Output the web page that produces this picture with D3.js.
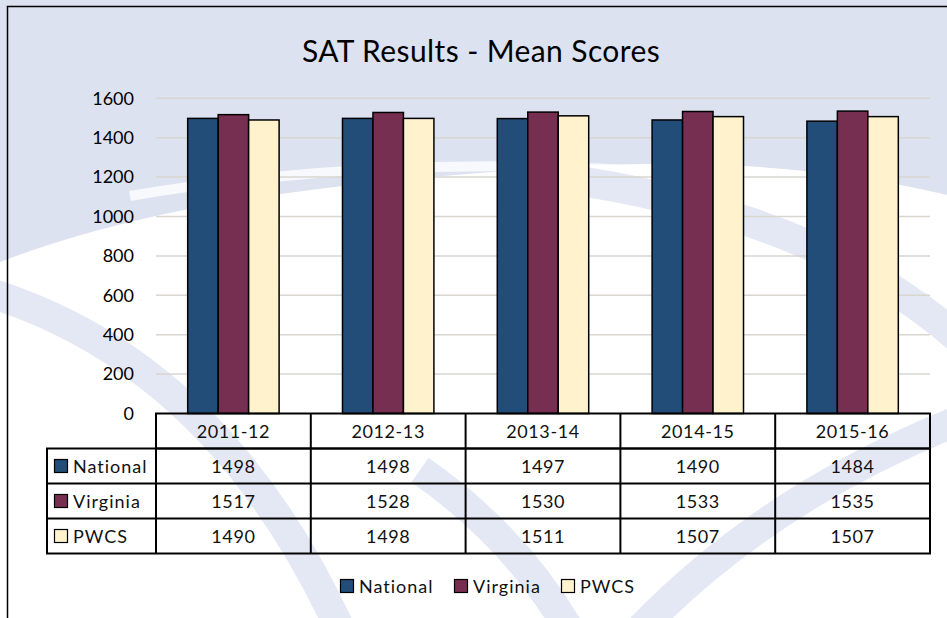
<!DOCTYPE html>
<html>
<head>
<meta charset="utf-8">
<script src="https://cdn.jsdelivr.net/npm/d3@7/dist/d3.min.js"></script>
<style>
  body { margin: 0; background: #fff; }
  svg { display: block; font-family: Lato, "Open Sans", sans-serif; }
</style>
</head>
<body>
<div id="chart"></div>
<script>
// chart data
const years = ['2011-12', '2012-13', '2013-14', '2014-15', '2015-16']
const seriesNames = ['National', 'Virginia', 'PWCS']
const national = [1498, 1498, 1497, 1490, 1484]
const virginia = [1517, 1528, 1530, 1533, 1535]
const pwcs = [1490, 1498, 1511, 1507, 1507]
const yTicks = [0, 200, 400, 600, 800, 1000, 1200, 1400, 1600]
const colors = ['#214d78', '#772f51', '#fff2cc']

const values = [national, virginia, pwcs]

const W = 947
const H = 618
const svg = d3.select('#chart').append('svg')
  .attr('width', W)
  .attr('height', H)

// background (light lavender top with pale swooshes)
let bg = svg.append('g')
bg.append('rect').attr('width', W).attr('height', H).attr('fill', '#ffffff')
bg.append('path')
  .attr('d', 'M0,0 H947 V195 Q760,150 520,170 Q300,185 160,215 Q70,235 0,262 Z')
  .attr('fill', '#dde2f0')
bg.append('path')
  .attr('d', 'M130,196 Q400,150 700,175')
  .attr('fill', 'none').attr('stroke', '#ffffff').attr('stroke-width', 10).attr('opacity', 0.8)
let bands = [
  'M-20,290 Q220,360 345,640',
  'M560,178 Q820,215 960,340',
  'M960,420 Q760,500 630,640',
  'M420,470 Q520,540 575,640'
]
bg.selectAll('.band').data(bands).enter().append('path')
  .attr('class', 'band')
  .attr('d', d => d)
  .attr('fill', 'none')
  .attr('stroke', '#dde2f1')
  .attr('stroke-width', 30)
  .attr('opacity', 0.8)

// outer border
svg.append('path')
  .attr('d', 'M7.5,' + H + ' V6.5 H' + W)
  .attr('fill', 'none')
  .attr('stroke', '#000')
  .attr('stroke-width', 1.5)

// title
svg.append('text')
  .attr('x', 481)
  .attr('y', 62)
  .attr('text-anchor', 'middle')
  .attr('font-size', 30)
  .attr('letter-spacing', 0.4)
  .attr('fill', '#000')
  .text('SAT Results - Mean Scores')

// scales
let left = 156
let right = 930
let y = d3.scaleLinear().domain([0, 1600]).range([413.5, 98.3])
let x0 = d3.scaleBand().domain(years).range([left, right]).paddingInner(0)
let x1 = d3.scaleBand().domain(seriesNames).range([0, x0.bandwidth()])
  .paddingInner(0).paddingOuter(1.04)

// gridlines
svg.append('g').selectAll('line')
  .data(yTicks.filter(t => t > 0))
  .enter().append('line')
  .attr('x1', left).attr('x2', right)
  .attr('y1', d => y(d)).attr('y2', d => y(d))
  .attr('stroke', '#d9d6d0')
  .attr('stroke-width', 1.5)

// y axis labels
let yAxis = svg.append('g')
  .attr('transform', 'translate(' + left + ',0)')
  .call(d3.axisLeft(y).tickValues(yTicks).tickFormat(d3.format('d')).tickSize(0).tickPadding(22))
yAxis.select('.domain').remove()
yAxis.selectAll('text')
  .attr('font-size', 18)
  .attr('font-family', 'Lato, sans-serif')
  .attr('fill', '#000')

// bars
let group = svg.append('g').selectAll('.year')
  .data(years)
  .enter().append('g')
  .attr('class', 'year')
  .attr('transform', d => 'translate(' + x0(d) + ',0)')

group.selectAll('rect')
  .data((d, i) => seriesNames.map((s, k) => ({ s: s, v: values[k][i], k: k })))
  .enter().append('rect')
  .attr('x', d => x1(d.s))
  .attr('y', d => y(d.v))
  .attr('width', x1.bandwidth())
  .attr('height', d => y(0) - y(d.v))
  .attr('fill', d => colors[d.k])
  .attr('stroke', '#000')
  .attr('stroke-width', 1.5)

// data table
let headTop = 413.5
let rowH = 35
let legLeft = 47
let table = svg.append('g')
  .attr('fill', 'none')
  .attr('stroke', '#000')
  .attr('stroke-width', 2)

table.append('rect')
  .attr('x', left).attr('y', headTop)
  .attr('width', right - left).attr('height', rowH)
table.append('rect')
  .attr('x', legLeft).attr('y', headTop + rowH)
  .attr('width', right - legLeft).attr('height', rowH * 3)
seriesNames.slice(1).forEach((s, k) => {
  table.append('line')
    .attr('x1', legLeft).attr('x2', right)
    .attr('y1', headTop + rowH * (k + 2)).attr('y2', headTop + rowH * (k + 2))
})
years.forEach(c => {
  table.append('line')
    .attr('x1', x0(c)).attr('x2', x0(c))
    .attr('y1', headTop).attr('y2', headTop + rowH * 4)
})

let txt = svg.append('g')
  .attr('font-size', 18)
  .attr('letter-spacing', 0.6)
  .attr('fill', '#111')

txt.selectAll('.head')
  .data(years)
  .enter().append('text')
  .attr('x', d => x0(d) + x0.bandwidth() / 2)
  .attr('y', headTop + rowH / 2 + 7)
  .attr('text-anchor', 'middle')
  .text(d => d)

seriesNames.forEach((s, k) => {
  let ry = headTop + rowH * (k + 1)
  txt.selectAll('.v' + k)
    .data(values[k])
    .enter().append('text')
    .attr('x', (d, i) => x0(years[i]) + x0.bandwidth() / 2)
    .attr('y', ry + rowH / 2 + 7)
    .attr('text-anchor', 'middle')
    .text(d => d)

  txt.append('rect')
    .attr('x', 54.5).attr('y', ry + rowH / 2 - 6.5)
    .attr('width', 13).attr('height', 13)
    .attr('fill', colors[k])
    .attr('stroke', '#000')
    .attr('stroke-width', 1.2)
  txt.append('text')
    .attr('x', 73)
    .attr('y', ry + rowH / 2 + 7)
    .attr('letter-spacing', 1)
    .text(s)
})

// bottom legend
let legX = [340, 454, 561]
let legend = svg.append('g')
  .attr('font-size', 18)
  .attr('letter-spacing', 1)
  .attr('fill', '#111')
seriesNames.forEach((s, k) => {
  legend.append('rect')
    .attr('x', legX[k] + 0.5).attr('y', 579.5)
    .attr('width', 13).attr('height', 13)
    .attr('fill', colors[k])
    .attr('stroke', '#000')
    .attr('stroke-width', 1.2)
  legend.append('text')
    .attr('x', legX[k] + 19)
    .attr('y', 593)
    .text(s)
})
</script>
</body>
</html>
